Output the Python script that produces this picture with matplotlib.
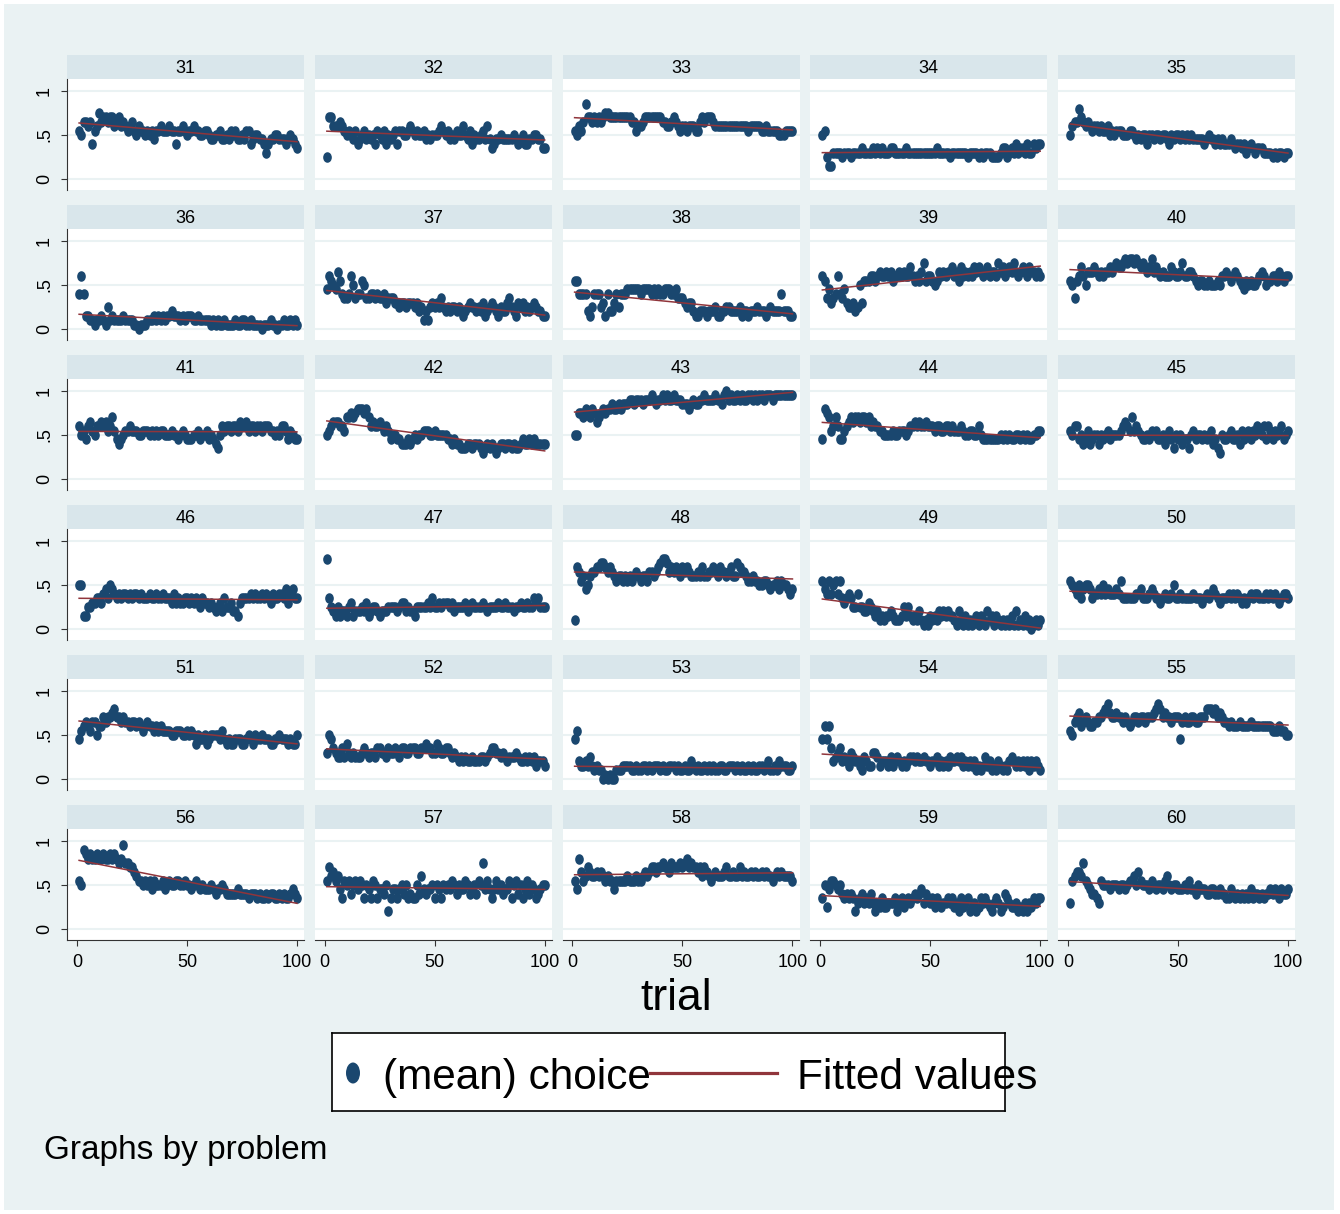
import numpy as np
import matplotlib
matplotlib.use('Agg')
import matplotlib.pyplot as plt
from matplotlib.patches import Rectangle, Ellipse
from matplotlib.path import Path
from matplotlib.transforms import Affine2D

# Stata-style "by(problem)" panel of mean choice against trial,
# with a linear fit in each panel.

problems = list(range(31, 61))
trials = np.arange(1, 101)

# mean choice per trial in twentieths:
# 0-9 then A=10 ... K=20 (so 'A' = .5, 'K' = 1)
choice_codes = [
    "BADDCD8BCF DEEDEECDEC DCBCDBACBB ABAB9BBCBB BCBB8BBCBA BBCBBAABBA 99AAB99A9B AB99A9BB89 AA9986899A A99989A987",
    "5EECCCDCBA BA9B89AB9A 9A8BA9B8A9 AB8BBAABCB ABAAB9A9AA ABCBAB9A9B AACA9B8A99 AB9C97899A 99999A989A 8899AA9977",
    "BACBDHEEDE DEDEFFEEEE EEEEEEDDBC CDEEEEEEEE DDCCDEDCBC CBCCCBBDED EEEDCCCCCC CCCCCCCCCB CCCCCBBCBB BBBAAABBBB",
    "AB53366665 6665666676 6667676766 6776666676 6666666666 6676666656 6666665666 6565666555 5677567686 7768668788",
    "ACDDGEDCDC BCCBCBBCAB ABBBAAABBA 9A9AA8AA9A A9AA98A9AA 9A9A9A9999 989A998989 8889878878 6787677766 6656566566",
    "8C83322122 3215232222 3222211011 1222323232 3343332323 3322322222 1212112111 1211221121 1110111211 0112112121",
    "9CBA9DB877 8CA788BA77 8878778677 7665665666 5645242565 6575454554 5434565545 4634565435 4467543656 4545654433",
    "BB88884358 8856384468 5888999999 8999989898 8999889777 6566433444 3444533445 5444453443 4445444345 4444844433",
    "CB79678C87 9655645A6B BBCCBCDCCD CDBCCDCDCC ECBCBDFBCC BABDCDCDDE CDBECDCDCE DEDCDECDDC FDECDEDFDC DEDCEDDCDC",
    "BA7BCECADD DEDCDCDDED EFEEFGFGGF GFEFEDEGDE DCDCCCEDCC DFCCDDCBAB BAABAAABAC CDCBCDCBA9 BABAABCDCA BBCCBDCBCC",
    "CAB9CDBACC DCDBCEB989 ABBCBBBAAB BBABABABBA AABAA9ABA9 99AAB9AAB9 A987ACBCCB CCBDCCDBCC BCCBCCCBBA BACCB9BA99",
    "ABCDDDCCBE EFEFGGGFGE CDCCDCBCB9 AA99888989 A9AABBBAAB AAAAA99898 8777887888 7678787678 8788787789 8898988888",
    "AAFFEGFEGF DEFGFGGHGG HGHHHIIHII IHIIIJIHII JIJIIJIIIH HHGHIHHIIJ IIIIJIIHJK IJIIJIJIIJ JIJIJJIJJJ IJJJJJJJJJ",
    "9GFEBCEC99 BCDEDEEDEE DECDCCBBAA AABAABBBAB CCDCDCCDCC CBCCBBCCBC BBBCBAABBA ACA9999999 9A9A9A99AA 9A9A99AABB",
    "BACC9A89B8 9AA8A9AB9A AAABCDCBEB CBA99A9BAB 99A8AB97A9 A8997AB9AA 9A9AB8976A 99AB99A8B9 AB9BACBAC9 CB9BABC9AB",
    "AA33556677 6897A98787 8878788787 7787787787 7768676677 6767657665 6545647556 4436777787 8778787687 7887968977",
    "G754353443 5634445463 4554344455 5545664544 3555556575 5656665645 5556456555 5654555565 5655545565 5655767555",
    "2EDBC9ACDD EEFFEDEDCB CCBCBCBCDC BCCBDDCDEF GGFDEDEDCE DEDCCCDCEC CDDEDCEDDC DECCFEDDCB BCBBAABBA9 AAB9BAA989",
    "B98B8AB8B7 6787558554 4654342323 3432223535 3232421213 2324343433 2142131212 3132142313 2121213141 2131201212",
    "BA98A79AA9 78898A8988 898B777777 8897778987 7678778A77 8777778777 6787898767 7787878767 6787887778 7878767887",
    "9BCDCBDDAC CEDEEFGEED EDDCDDCDCB CDCCBCBCBB BBAABBBAAB ABA8A99A89 AAAA9B9898 8999889A98 A99A999889 9A9998988A",
    "6A97655758 6565556765 6657766576 6765776677 7667787766 8766776565 4545445444 5545677665 6545556544 5454534443",
    "9B43343532 3220101002 2233332232 2332323332 3223332322 3224323223 2323223322 3332323223 2322332342 2324333223",
    "9C9C745674 5436544325 4336653444 3534543434 5545445443 4453434354 4545343434 2323534232 4323245434 3434243432",
    "BADEFCDEDC CDDEEFGHFE EFEEDEDCDE EDEEDEEEFG HGEFEEDEEE 9DEDDEEDDE EEGGGFGEFE DDCDCCCDCC CCDCCCCCCC CCBBBCBBAA",
    "BAIHGHGGHG GHGGHGHGFG JFFEEDCBBA BAB9BAAAB9 ABAABBAABA A9ABA9A999 A9899A9888 8898888788 8787787887 7878778987",
    "BECDBC97BA B8AB9BA7A9 7BA7998A47 9979A8A787 7A8C9899A7 A97A9A9BA8 A99BA89A8B AF9B979B9A 899B7AB8A7 9B8A9789AA",
    "B9GDBCEDCC DCDCBCBB9B BBBBCBBBCB BCDCDEEDEE FEEDFEEEFE FGEFEEDECE DCBCDCCCDE CCDCCECDCC DCDCCDCDCC BCDCDCCCCB",
    "7A59BBA9A8 7878746786 7686465755 6667467567 6787896876 7576566767 5647567456 4576765467 6458765564 5464657677",
    "6BCDDCFBA9 8876BAAA9A AA9AA9ABBC ADBAAA9BA9 AA9BCA9AA9 99A9B998A9 9988998898 8779878787 8797887878 8989879889",
]

xticks = [0, 50, 100]
yticks = [0, 0.5, 1]
ytick_labels = ['0', '.5', '1']

bg = '#EAF2F3'
strip_col = '#D9E6EB'
dot_col = '#1A476F'
fit_col = '#90353B'

W, H = 1340, 1214
def box(l, t, w, h):
    # pixel box (from top-left) -> figure fraction
    return [l / W, 1 - (t + h) / H, w / W, h / H]

# Stata's dots come out slightly taller than wide
oval = Path.unit_circle().transformed(Affine2D().scale(0.82, 1.0))

plt.rcParams['font.family'] = ['Liberation Sans', 'DejaVu Sans']

fig = plt.figure(figsize=(W / 100, H / 100), dpi=100, facecolor='white')
fig.patches.append(Rectangle((4 / W, 4 / H), 1330 / W, 1206 / H,
                             transform=fig.transFigure, facecolor=bg,
                             edgecolor='none', zorder=-10))

for i, (prob, code) in enumerate(zip(problems, choice_codes)):
    r, c = divmod(i, 5)
    left = 67 + 247.75 * c
    top = 55 + 150 * r

    # header strip
    sax = fig.add_axes(box(left, top, 237, 24), facecolor=strip_col)
    sax.set_xticks([])
    sax.set_yticks([])
    for s in sax.spines.values():
        s.set_visible(False)
    sax.text(0.5, 0.45, str(prob), ha='center', va='center', fontsize=13)

    # plot region
    ax = fig.add_axes(box(left, top + 24, 237, 111), facecolor='white')
    y = np.array([int(ch, 21) for ch in code.replace(' ', '')]) / 20.0
    ax.set_xlim(-4.5, 103.2)
    ax.set_ylim(-0.125, 1.136)
    for g in yticks:
        ax.axhline(g, color=bg, lw=1.5, zorder=0)
    ax.plot(trials, y, ls='none', marker=oval, ms=7.6, color=dot_col,
            mec='none', zorder=2)
    slope, icpt = np.polyfit(trials, y, 1)
    ax.plot(trials, icpt + slope * trials, color=fit_col, lw=1.1, zorder=3)

    for s in ax.spines.values():
        s.set_visible(False)
    if c == 0:
        ax.spines['left'].set_visible(True)
        ax.spines['left'].set_color('#333333')
        ax.set_yticks(yticks, ytick_labels)
        ax.tick_params(axis='y', labelrotation=90, length=4, pad=6,
                       labelsize=13, color='#333333')
        for lab in ax.get_yticklabels():
            lab.set_va('center')
    else:
        ax.set_yticks([])
    if r == 5:
        ax.spines['bottom'].set_visible(True)
        ax.spines['bottom'].set_color('#333333')
        ax.set_xticks(xticks, [str(t) for t in xticks])
        ax.tick_params(axis='x', length=4, pad=6, labelsize=13,
                       color='#333333')
    else:
        ax.set_xticks([])

fig.text(676 / W, 1 - 998 / H, 'trial', ha='center', va='center',
         fontsize=32)

# legend drawn by hand in pixel units
lax = fig.add_axes(box(332, 1033, 673, 78), facecolor='white')
lax.set_xlim(0, 673)
lax.set_ylim(78, 0)
lax.set_xticks([])
lax.set_yticks([])
for s in lax.spines.values():
    s.set_color('black')
    s.set_linewidth(1.2)
lax.add_patch(Ellipse((21, 40), 14, 21, facecolor=dot_col, edgecolor='none'))
lax.text(51, 45, '(mean) choice', ha='left', va='center', fontsize=30.5,
         clip_on=False)
lax.plot([318, 445], [40, 40], color=fit_col, lw=2.3, clip_on=False)
lax.text(465, 45, 'Fitted values', ha='left', va='center', fontsize=30.5,
         clip_on=False)

fig.text(44 / W, 1 - 1151 / H, 'Graphs by problem', ha='left', va='center',
         fontsize=24)

fig.savefig('out.png', dpi=100, facecolor=fig.get_facecolor())
